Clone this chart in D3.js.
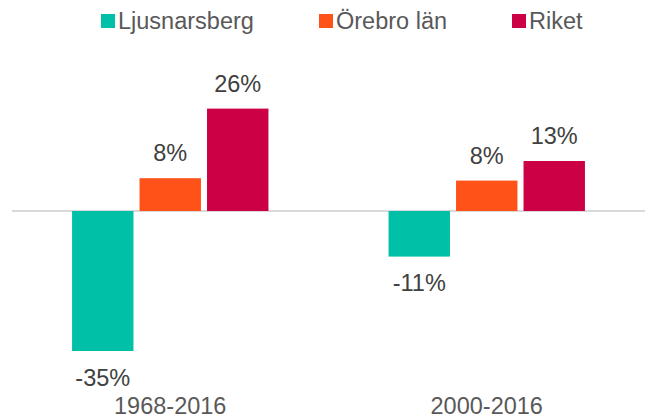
<!DOCTYPE html>
<html>
<head>
<meta charset="utf-8">
<script src="https://d3js.org/d3.v7.min.js"></script>
<style>
  body { margin: 0; background: #fff; }
  text { font-family: "Liberation Sans", Arial, sans-serif; }
</style>
</head>
<body>
<div id="chart"></div>
<script>
// periods on the x axis
var periods = ["1968-2016", "2000-2016"];
// series (legend order)
var series = ["Ljusnarsberg", "Örebro län", "Riket"];
var colors = ["#00c0a8", "#ff5218", "#cc0044"];
// population change in percent, one array per series
var ljusnarsberg = [-35, -11.4];
var orebroLan = [8.2, 7.6];
var riket = [25.6, 12.5];

var values = [ljusnarsberg, orebroLan, riket];

var width = 646, height = 418;

var svg = d3.select("#chart").append("svg")
    .attr("width", width)
    .attr("height", height);

var x0 = d3.scaleBand().domain(periods).range([12, 645]);
var x1 = d3.scaleBand().domain(series)
    .range([0, x0.bandwidth()])
    .paddingInner(0.09)
    .paddingOuter(0.89);

var y = d3.scaleLinear().domain([-40, 30]).range([371, 91]);

// plain hyphen for negatives, like the original
var fmt = function(v) { return Math.round(v) + "%"; };

// build flat rows
var rows = [];
periods.forEach(function(p, i) {
  series.forEach(function(s, j) {
    rows.push({period: p, series: s, value: values[j][i], color: colors[j]});
  });
});

// zero line
svg.append("line")
    .attr("x1", 12).attr("x2", 645)
    .attr("y1", y(0)).attr("y2", y(0))
    .attr("stroke", "#d9d9d9")
    .attr("stroke-width", 2);

svg.selectAll("rect.bar")
    .data(rows)
  .enter().append("rect")
    .attr("class", "bar")
    .attr("x", function(d) { return x0(d.period) + x1(d.series); })
    .attr("width", x1.bandwidth())
    .attr("y", function(d) { return d.value >= 0 ? y(d.value) : y(0); })
    .attr("height", function(d) { return Math.abs(y(d.value) - y(0)); })
    .attr("fill", function(d) { return d.color; });

// value labels
svg.selectAll("text.val")
    .data(rows)
  .enter().append("text")
    .attr("class", "val")
    .attr("x", function(d) { return x0(d.period) + x1(d.series) + x1.bandwidth() / 2; })
    .attr("y", function(d) { return d.value >= 0 ? y(d.value) - 17 : y(d.value) + 34.5; })
    .attr("text-anchor", "middle")
    .attr("font-size", "23.5px")
    .attr("fill", "#404040")
    .text(function(d) { return fmt(d.value); });

// category labels
svg.selectAll("text.cat")
    .data(periods)
  .enter().append("text")
    .attr("class", "cat")
    .attr("x", function(d) { return x0(d) + x0.bandwidth() / 2; })
    .attr("y", 413.5)
    .attr("text-anchor", "middle")
    .attr("font-size", "23.5px")
    .attr("fill", "#595959")
    .text(function(d) { return d; });

// legend
var legendX = [101, 319, 512];
var legend = svg.selectAll("g.leg")
    .data(series)
  .enter().append("g")
    .attr("class", "leg")
    .attr("transform", function(d, i) { return "translate(" + legendX[i] + ",14)"; });

legend.append("rect")
    .attr("width", 14).attr("height", 14)
    .attr("fill", function(d, i) { return colors[i]; });

legend.append("text")
    .attr("x", 17)
    .attr("y", 14.5)
    .attr("font-size", "23.5px")
    .attr("fill", "#595959")
    .text(function(d) { return d; });
</script>
</body>
</html>
